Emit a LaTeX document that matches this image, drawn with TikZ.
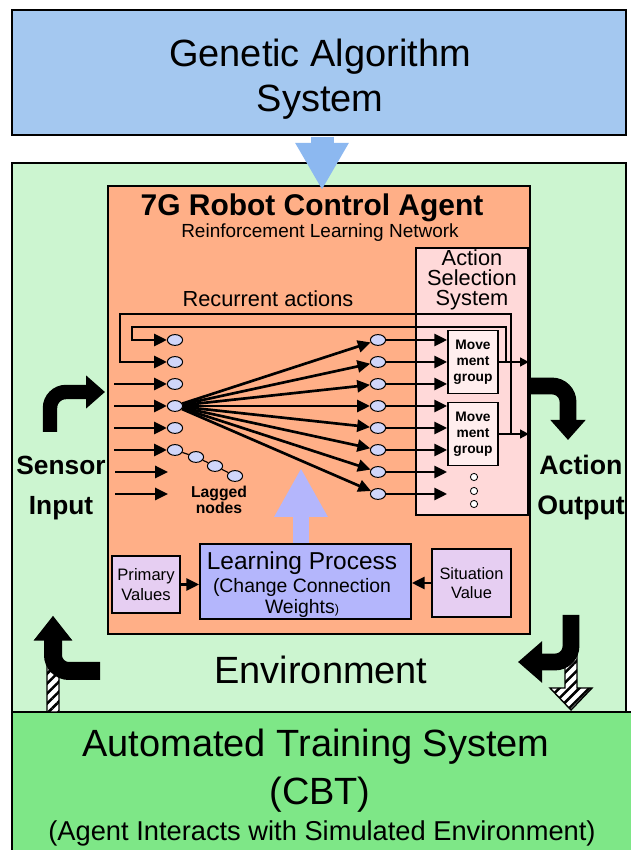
\documentclass[tikz,border=0pt]{standalone}
\usepackage{fontspec}
\setmainfont{Liberation Sans}
\usetikzlibrary{arrows.meta,shapes.geometric,patterns.meta}

\definecolor{gablue}{RGB}{164,200,240}
\definecolor{gaarrow}{RGB}{140,184,240}
\definecolor{envgreen}{RGB}{204,245,208}
\definecolor{cbtgreen}{RGB}{126,231,135}
\definecolor{agentorange}{RGB}{255,175,135}
\definecolor{asspink}{RGB}{255,217,217}
\definecolor{grouppink}{RGB}{255,238,238}
\definecolor{neuron}{RGB}{208,214,250}
\definecolor{learnblue}{RGB}{180,182,252}
\definecolor{valuelilac}{RGB}{230,206,242}

\begin{document}
\begin{tikzpicture}[
  box/.style={draw, line width=1.2pt, inner sep=0pt},
  neur/.style={ellipse, draw, line width=0.7pt, fill=neuron, minimum width=0.38cm, minimum height=0.27cm, inner sep=0pt},
  dotnode/.style={circle, draw, line width=0.6pt, fill=white, minimum size=0.18cm, inner sep=0pt},
  arr/.style={line width=1.9pt, -{Triangle[length=0.32cm,width=0.3cm]}},
  outarr/.style={line width=1.3pt, -{Triangle[length=0.22cm,width=0.22cm]}},
  bent/.style={line width=0.38cm, rounded corners=0.4cm},
  hatch/.style={fill=white, postaction={pattern={Lines[angle=45,distance=5pt,line width=1.8pt]}}, postaction={draw, line width=1pt}},
]
\useasboundingbox (0,0) rectangle (15.775,21.25);
\fill[white] (0,0) rectangle (15.775,21.25);
%\draw[step=0.5,gray,very thin] (0,0) grid (15.775,21.25); %background grid

% outer boxes
\node[box, fill=envgreen, minimum width=15.35cm, minimum height=13.725cm] (env) at (7.975,10.3125) {};
\draw[line width=1.2pt, fill=cbtgreen] (0.3,-0.1) rectangle (15.9,3.45);
\node[box, fill=agentorange, minimum width=10.55cm, minimum height=11.2cm] (agent) at (7.975,11.0) {};
\node[box, fill=gablue, minimum width=15.35cm, minimum height=3.125cm] (ga) at (7.975,19.4375) {};
\node[align=center, font=\fontsize{27}{32}\selectfont] (gatext) at (8.0,19.27) {Genetic Algorithm\\System};
\coordinate (gatip) at (8.05,16.5);
\draw[line width=0.575cm, gaarrow, -{Triangle[width=1.25cm,length=1.175cm]}] ([yshift=-0.7pt]gatip |- ga.south) -- (gatip);

\node[font=\fontsize{27}{32}\selectfont] (ats) at (7.9,2.575) {Automated Training System};
\node[font=\fontsize{27}{32}\selectfont] (cbt) at (8.0,1.375) {(CBT)};
\node[font=\fontsize{19.4}{22}\selectfont] (sim) at (8.05,0.425) {(Agent Interacts with Simulated Environment)};
\node[font=\fontsize{27}{32}\selectfont] (envtext) at (8.025,4.5) {Environment};

% agent
\node[font=\bfseries\fontsize{21.3}{24}\selectfont] (title) at (7.8,16.05) {7G Robot Control Agent};
\node[font=\fontsize{13.5}{16}\selectfont] (subtitle) at (8.0,15.425) {Reinforcement Learning Network};
\node[box, fill=asspink, minimum width=2.8cm, minimum height=6.675cm] (ass) at (11.8,11.7125) {};
\node[align=center, font=\fontsize{15.5}{14.2}\selectfont] (asstext) at (11.8,14.25) {Action\\Selection\\System};
\node[font=\fontsize{15.5}{18}\selectfont] (recur) at (6.7,13.775) {Recurrent actions};

% network
\foreach \i in {1,...,6} \node[neur] (in\i) at (4.375,{12.75-0.55*(\i-1)}) {};
\foreach \j in {1,...,8} \node[neur] (out\j) at (9.45,{12.75-0.55*(\j-1)}) {};
\node[neur] (lag1) at (4.9,9.825) {};
\node[neur] (lag2) at (5.375,9.6) {};
\node[neur] (lag3) at (5.875,9.35) {};
\draw[line width=0.8pt] (in6) -- (lag1) -- (lag2) -- (lag3);
\node[align=center, font=\bfseries\fontsize{11.2}{11}\selectfont] (lagtext) at (5.475,8.75) {Lagged\\nodes};

\coordinate (feed) at (2.85,0);
\foreach \i in {3,...,6} \draw[arr] (in\i -| feed) -- (in\i);
\foreach \k/\y in {7/9.45,8/8.9} {
  \coordinate (s\k) at (2.875,\y);
  \coordinate (e\k) at (4.2,\y);
  \draw[arr] (s\k) -- (e\k);
}
\foreach \j in {1,...,8} \draw[arr] (in4) -- (out\j);

\node[box, fill=grouppink, minimum width=1.25cm, minimum height=1.575cm, align=center, font=\bfseries\fontsize{9.8}{11.4}\selectfont] (mg1) at (11.825,12.2) {Move\\ment\\group};
\node[box, fill=grouppink, minimum width=1.25cm, minimum height=1.575cm, align=center, font=\bfseries\fontsize{9.8}{11.4}\selectfont] (mg2) at (11.825,10.4) {Move\\ment\\group};
\foreach \j in {1,...,8} \draw[arr] (out\j) -- (out\j -| mg1.west);
\foreach \k/\y in {1/9.325,2/8.975,3/8.65} \node[dotnode] (dot\k) at (11.85,\y) {};

\draw[outarr] (mg1) -- (mg1 -| ass.east);
\draw[outarr] (mg2) -- (mg2 -| ass.east);
% recurrent loops
\draw[arr] (mg1.east) ++(0.175,0) |- (3.3,13.075) |- (in1);
\draw[arr] (mg2.east) ++(0.3,0) |- (3.0,13.4) |- (in2);

% learning
\coordinate (uptip) at (7.525,9.55);
\draw[line width=0.4cm, learnblue, -{Triangle[width=1.25cm,length=1.225cm]}] (uptip |- 0,7.6) -- (uptip);
\node[box, fill=learnblue, minimum width=5.275cm, minimum height=1.875cm] (learn) at (7.6375,6.7125) {};
\node[align=center, font=\fontsize{13.8}{15}\selectfont] (learntext) at (7.55,6.63) {{\fontsize{17.4}{20}\selectfont Learning Process}\\[1pt](Change Connection\\Weights{\fontsize{9}{9}\selectfont)}};
\node[box, fill=valuelilac, minimum width=1.7cm, minimum height=1.425cm, align=center, font=\fontsize{11.8}{14}\selectfont] (prim) at (3.65,6.6375) {Primary\\Values};
\node[box, fill=valuelilac, minimum width=1.975cm, minimum height=1.7cm, align=center, font=\fontsize{11.7}{14}\selectfont] (sit) at (11.7875,6.675) {Situation\\Value};
\draw[arr] (prim) -- (prim -| learn.west);
\draw[arr] (sit) -- (sit -| learn.east);

% sensor / action
\node[align=center, font=\bfseries\fontsize{18.7}{28.5}\selectfont] (sensor) at (1.525,9.05) {Sensor\\Input};
\node[align=center, font=\bfseries\fontsize{19}{28.5}\selectfont] (action) at (14.525,9.05) {Action\\Output};
\coordinate (sensorfoot) at (1.25,10.45);
\coordinate (sensortip) at (2.625,11.45);
\draw[bent, line width=0.36cm, -{Triangle[width=0.8cm,length=0.475cm]}] (sensorfoot) |- (sensortip);
\coordinate (actfoot) at (13.25,11.6);
\coordinate (acttip) at (14.2,10.25);
\draw[bent, line width=0.42cm, -{Triangle[width=0.85cm,length=0.5cm]}] (actfoot) -| (acttip);

% environment arrows
\path[hatch] (1.175,3.45) -- (1.175,5.25) -- (0.875,5.25) -- (1.325,5.825) -- (1.775,5.25) -- (1.475,5.25) -- (1.475,3.45) -- cycle;
\coordinate (envleft) at (2.5,4.475);
\coordinate (envlefttip) at (1.325,5.825);
\draw[bent, line width=0.45cm, -{Triangle[width=0.9cm,length=0.575cm]}] (envleft) -| (envlefttip);
\path[hatch] (14.125,4.9) -- (14.125,4.05) -- (13.75,4.05) -- (14.275,3.5) -- (14.8,4.05) -- (14.425,4.05) -- (14.425,4.9) -- cycle;
\coordinate (envright) at (14.275,5.875);
\coordinate (envrighttip) at (12.95,4.7);
\draw[bent, line width=0.42cm, -{Triangle[width=1.0cm,length=0.6cm]}] (envright) |- (envrighttip);
\end{tikzpicture}
\end{document}
